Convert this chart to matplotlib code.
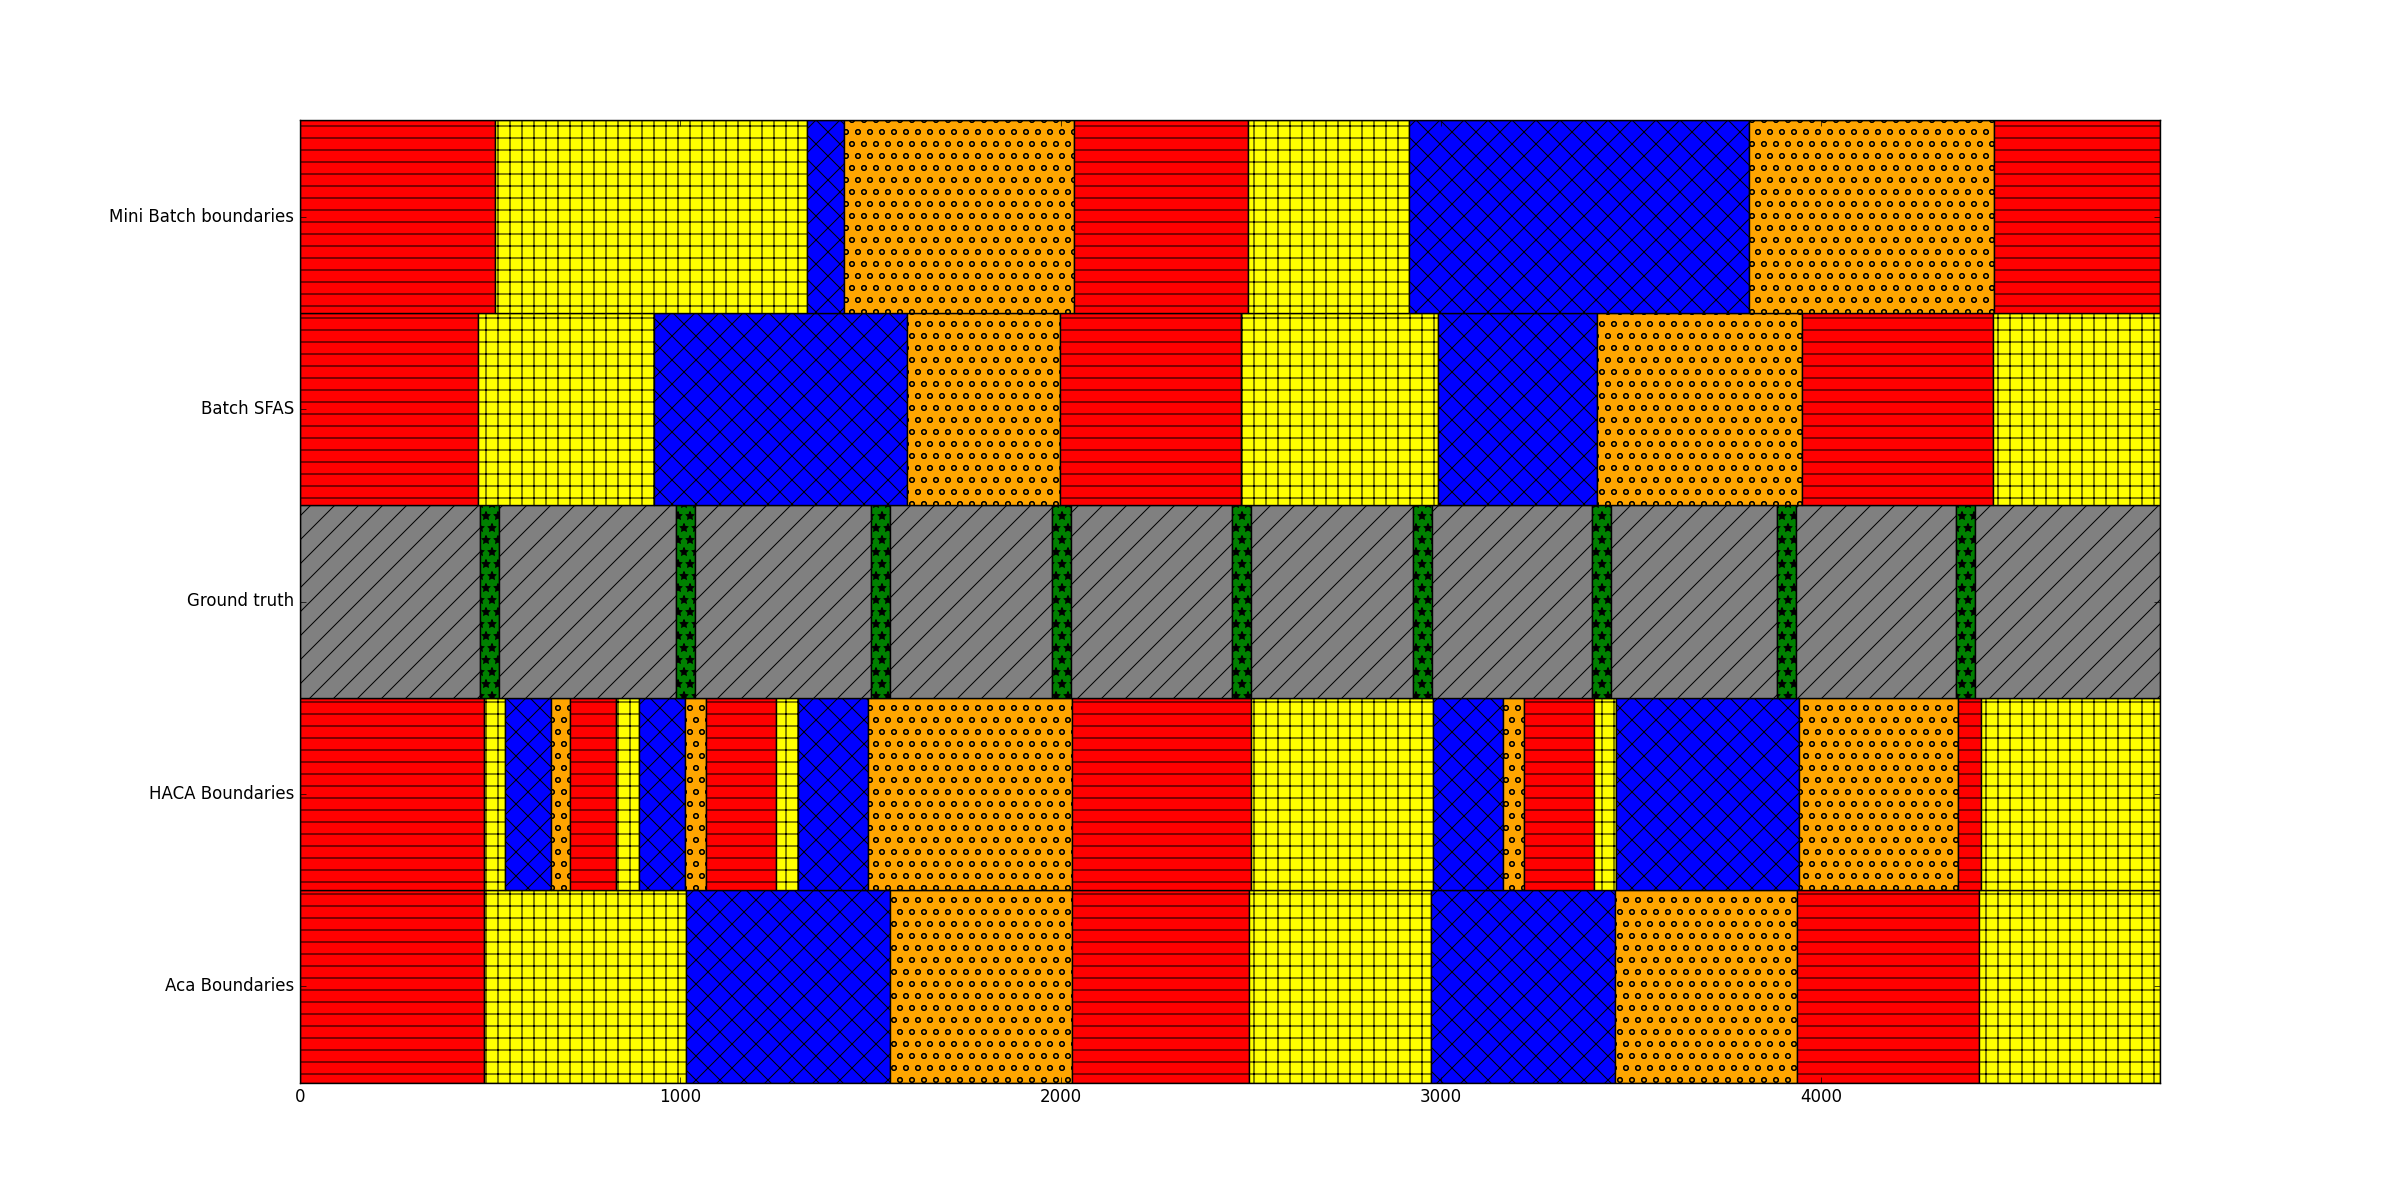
import matplotlib
matplotlib.use("Agg")
import matplotlib.pyplot as plt

plt.style.use("classic")
plt.rcParams["font.family"] = ["DejaVu Sans"]

# Row labels (bottom to top)
row_labels = ["Aca Boundaries", "HACA Boundaries", "Ground truth", "Batch SFAS", "Mini Batch boundaries"]

# Segment end points for each row (frames)
aca_ends = [483, 1015, 1552, 2029, 2494, 2974, 3456, 3936, 4414, 4890]
haca_ends = [484, 539, 661, 709, 831, 891, 1011, 1067, 1252, 1308, 1492, 2029,
             2499, 2980, 3162, 3218, 3402, 3460, 3941, 4358, 4419, 4890]
truth_ends = [473, 523, 988, 1038, 1501, 1551, 1976, 2026, 2451, 2501, 2927, 2977,
              3397, 3447, 3884, 3934, 4354, 4404, 4890]
sfas_ends = [468, 931, 1595, 1997, 2474, 2993, 3409, 3948, 4450, 4890]
minibatch_ends = [512, 1332, 1429, 2034, 2492, 2916, 3810, 4454, 4890]

# Cluster index of each segment
aca_labels = [0, 1, 2, 3, 0, 1, 2, 3, 0, 1]
haca_labels = [0, 1, 2, 3, 0, 1, 2, 3, 0, 1, 2, 3, 0, 1, 2, 3, 0, 1, 2, 3, 0, 1]
truth_labels = [4, 5, 4, 5, 4, 5, 4, 5, 4, 5, 4, 5, 4, 5, 4, 5, 4, 5, 4]
sfas_labels = [0, 1, 2, 3, 0, 1, 2, 3, 0, 1]
minibatch_labels = [0, 1, 2, 3, 0, 1, 2, 3, 0]

rows_ends = [aca_ends, haca_ends, truth_ends, sfas_ends, minibatch_ends]
rows_labels = [aca_labels, haca_labels, truth_labels, sfas_labels, minibatch_labels]

cluster_colors = ["#FF0000", "#FFFF00", "#0000FF", "#FFA500", "#808080", "#008000"]
cluster_hatches = ["-", "+", "x", "o", "/", "*"]

# Render at 72 dpi (hatch cell = 72 px, like the original), scale sizes accordingly
DPI = 72
S = 100.0 / DPI
plt.rcParams.update({
    "font.size": 12 * S,
    "axes.linewidth": 1.0 * S,
    "patch.linewidth": 1.0 * S,
    "xtick.major.size": 4 * S, "ytick.major.size": 4 * S,
    "xtick.minor.size": 2 * S, "ytick.minor.size": 2 * S,
    "xtick.major.width": 0.5 * S, "ytick.major.width": 0.5 * S,
    "xtick.major.pad": 4 * S, "ytick.major.pad": 4 * S,
    "hatch.linewidth": 1.0,
})

fig = plt.figure(figsize=(2400 / DPI, 1203 / DPI), dpi=DPI, facecolor="white")
ax = fig.add_subplot(111)
fig.subplots_adjust(left=0.125, right=0.9, bottom=0.1, top=0.9)

for r, (ends, labs) in enumerate(zip(rows_ends, rows_labels)):
    start = 0
    for e, lab in zip(ends, labs):
        ax.broken_barh([(start, e - start)], (r, 1),
                       facecolors=cluster_colors[lab], edgecolor="black",
                       hatch=cluster_hatches[lab], linewidth=1.0 * S)
        start = e

ax.set_xlim(0, max(aca_ends))
ax.set_ylim(0, len(row_labels))
ax.set_yticks([i + 0.5 for i in range(len(row_labels))])
ax.set_yticklabels(row_labels)
ax.set_xticks([0, 1000, 2000, 3000, 4000])

fig.savefig("out.png", dpi=DPI, facecolor="white")
